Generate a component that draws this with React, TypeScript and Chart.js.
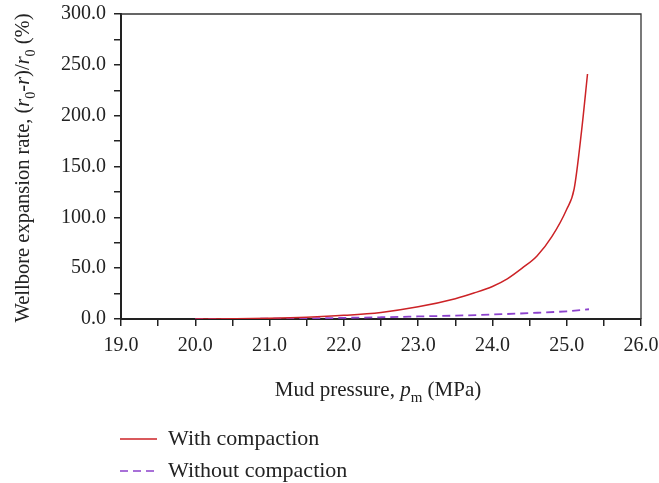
import React, { useEffect, useRef } from "react";
import { Chart, registerables } from "chart.js";

Chart.register(...registerables);

const pressureWith = [20.0, 20.5, 21.0, 21.5, 22.0, 22.5, 23.0, 23.5, 23.75, 24.0, 24.2, 24.4, 24.6, 24.8, 25.0, 25.1, 25.2, 25.28];
const rateWith = [0, 0.3, 0.8, 1.8, 3.6, 6.5, 12, 20, 25.5, 32, 39.5, 50, 62, 81, 108, 128, 185, 241];

const pressureWithout = [20.0, 20.5, 21.0, 21.5, 22.0, 22.5, 23.0, 23.5, 24.0, 24.5, 25.0, 25.3];
const rateWithout = [0, 0.1, 0.3, 0.6, 1.1, 1.7, 2.5, 3.3, 4.4, 5.8, 7.6, 9.6];

const xMin = 19, xMax = 26, xStep = 0.5;
const yMin = 0, yMax = 300, yStep = 25;

const seriesNames = ["With compaction", "Without compaction"];
const colors = ["#cc2226", "#8c42cc"];

const FONT = "'Liberation Serif', 'DejaVu Serif', serif";

type Seg = { t: string; i?: boolean; s?: boolean };
const yTitle: Seg[] = [
  { t: "Wellbore expansion rate, (" },
  { t: "r", i: true },
  { t: "0", s: true },
  { t: "-" },
  { t: "r", i: true },
  { t: ")/" },
  { t: "r", i: true },
  { t: "0", s: true },
  { t: " (%)" },
];
const xTitle: Seg[] = [
  { t: "Mud pressure, " },
  { t: "p", i: true },
  { t: "m", s: true },
  { t: " (MPa)" },
];

function segFont(seg: Seg, size: number) {
  const sz = seg.s ? Math.round(size * 0.7) : size;
  return `${seg.i ? "italic " : ""}${sz}px ${FONT}`;
}
function measure(ctx: CanvasRenderingContext2D, segs: Seg[], size: number) {
  let w = 0;
  for (const s of segs) {
    ctx.font = segFont(s, size);
    w += ctx.measureText(s.t).width;
  }
  return w;
}
function drawSegs(ctx: CanvasRenderingContext2D, segs: Seg[], size: number, x: number, y: number) {
  let cx = x;
  ctx.textBaseline = "alphabetic";
  ctx.textAlign = "left";
  for (const s of segs) {
    ctx.font = segFont(s, size);
    ctx.fillText(s.t, cx, s.s ? y + size * 0.28 : y);
    cx += ctx.measureText(s.t).width;
  }
}

const decorPlugin = {
  id: "decor",
  afterDraw(chart: any) {
    const ctx: CanvasRenderingContext2D = chart.ctx;
    const a = chart.chartArea;
    ctx.save();
    // frame top & right
    ctx.strokeStyle = "#333";
    ctx.lineWidth = 1.3;
    ctx.beginPath();
    ctx.moveTo(a.left, a.top);
    ctx.lineTo(a.right, a.top);
    ctx.lineTo(a.right, a.bottom);
    ctx.stroke();
    ctx.fillStyle = "#222";
    // x title
    const xs = 21;
    const xw = measure(ctx, xTitle, xs);
    drawSegs(ctx, xTitle, xs, 378 - xw / 2, 396);
    // y title
    const ys = 20.5;
    const yw = measure(ctx, yTitle, ys);
    ctx.save();
    ctx.translate(29, 168);
    ctx.rotate(-Math.PI / 2);
    drawSegs(ctx, yTitle, ys, -yw / 2, 0);
    ctx.restore();
    // legend
    const items = [
      { y: 439, dash: [] as number[] },
      { y: 471, dash: [8, 5] },
    ];
    items.forEach((it, i) => {
      ctx.strokeStyle = colors[i];
      ctx.lineWidth = 1.5;
      ctx.setLineDash(it.dash);
      ctx.beginPath();
      ctx.moveTo(120, it.y);
      ctx.lineTo(157, it.y);
      ctx.stroke();
      ctx.setLineDash([]);
      ctx.fillStyle = "#222";
      ctx.font = `22px ${FONT}`;
      ctx.textBaseline = "middle";
      ctx.textAlign = "left";
      ctx.fillText(seriesNames[i], 168, it.y);
    });
    ctx.restore();
  },
};

export default function App() {
  const ref = useRef<HTMLCanvasElement>(null);
  useEffect(() => {
    document.body.style.margin = "0";
    const chart = new Chart(ref.current!, {
      type: "line",
      data: {
        datasets: [
          {
            label: seriesNames[0],
            data: pressureWith.map((x, i) => ({ x, y: rateWith[i] })),
            borderColor: colors[0],
            borderWidth: 1.5,
            pointRadius: 0,
            cubicInterpolationMode: "monotone",
            fill: false,
          },
          {
            label: seriesNames[1],
            data: pressureWithout.map((x, i) => ({ x, y: rateWithout[i] })),
            borderColor: colors[1],
            borderWidth: 1.8,
            borderDash: [8, 5],
            pointRadius: 0,
            cubicInterpolationMode: "monotone",
            fill: false,
          },
        ],
      },
      options: {
        animation: false,
        responsive: false,
        maintainAspectRatio: false,
        layout: { padding: { top: 14, right: 18, left: 0, bottom: 0 } },
        plugins: { legend: { display: false }, tooltip: { enabled: false } },
        scales: {
          x: {
            type: "linear",
            min: xMin,
            max: xMax,
            afterFit: (s: any) => { s.height = 164; s.paddingLeft = 0; s.paddingRight = 0; },
            ticks: {
              stepSize: xStep,
              autoSkip: false,
              maxRotation: 0,
              padding: 8,
              color: "#222",
              font: { family: FONT, size: 20 },
              callback: (v: any) => (Math.abs(v - Math.round(v)) < 1e-6 ? Number(v).toFixed(1) : ""),
            },
            grid: { drawOnChartArea: false, drawTicks: true, tickLength: 7, color: "#222", lineWidth: 1.5 },
            border: { color: "#222", width: 2 },
          },
          y: {
            type: "linear",
            min: yMin,
            max: yMax,
            afterFit: (s: any) => { s.width = 121; s.paddingTop = 0; s.paddingBottom = 0; },
            ticks: {
              stepSize: yStep,
              autoSkip: false,
              padding: 8,
              color: "#222",
              font: { family: FONT, size: 20 },
              callback: (v: any) => (Number(v) % 50 === 0 ? Number(v).toFixed(1) : ""),
            },
            grid: { drawOnChartArea: false, drawTicks: true, tickLength: 7, color: "#222", lineWidth: 1.5 },
            border: { color: "#222", width: 2 },
          },
        },
      },
      plugins: [decorPlugin],
    } as any);
    return () => chart.destroy();
  }, []);
  return (
    <div style={{ position: "absolute", left: 0, top: 0, width: 659, height: 483, background: "#fff" }}>
      <canvas ref={ref} width={659} height={483} style={{ width: 659, height: 483 }} />
    </div>
  );
}
